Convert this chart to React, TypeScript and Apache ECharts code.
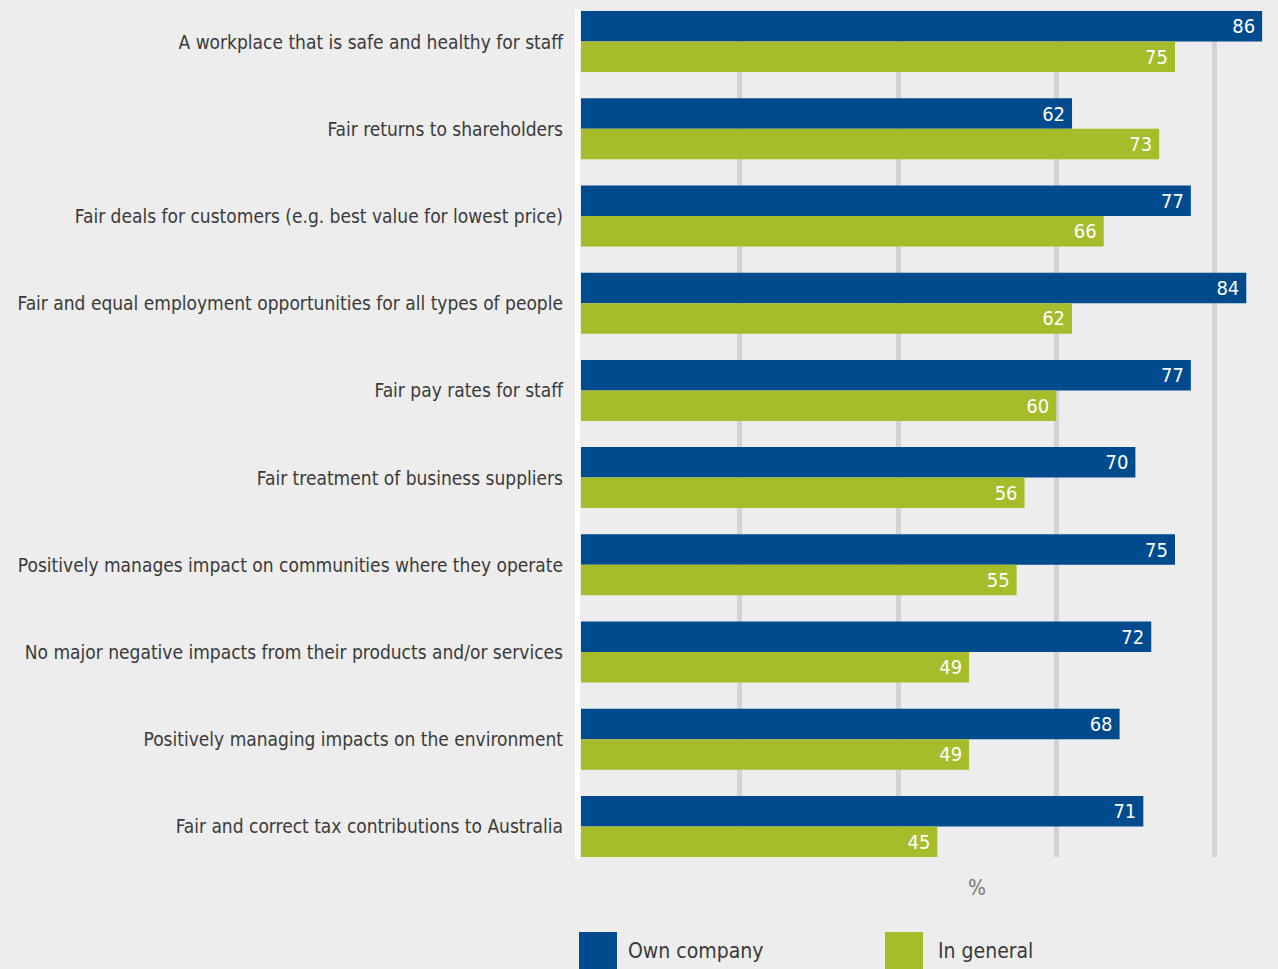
import React, { useEffect, useRef } from "react";
import * as echarts from "echarts";

const categories = [
  "A workplace that is safe and healthy for staff",
  "Fair returns to shareholders",
  "Fair deals for customers (e.g. best value for lowest price)",
  "Fair and equal employment opportunities for all types of people",
  "Fair pay rates for staff",
  "Fair treatment of business suppliers",
  "Positively manages impact on communities where they operate",
  "No major negative impacts from their products and/or services",
  "Positively managing impacts on the environment",
  "Fair and correct tax contributions to Australia",
];
const ownCompany = [86, 62, 77, 84, 77, 70, 75, 72, 68, 71];
const inGeneral = [75, 73, 66, 62, 60, 56, 55, 49, 49, 45];
const seriesNames = ["Own company", "In general"];
const unitLabel = "%";

const FONT = "'DejaVu Sans Condensed', 'Liberation Sans Narrow', sans-serif";
const BLUE = "#004b8d";
const GREEN = "#a6bc2b";

export default function App() {
  const ref = useRef<HTMLDivElement>(null);
  useEffect(() => {
    document.body.style.margin = "0";
    if (!ref.current) return;
    const chart = echarts.init(ref.current, null, { renderer: "svg" });
    const valueLabel = {
      show: true,
      position: "insideRight",
      distance: 7,
      color: "#ffffff",
      fontSize: 20,
      fontFamily: FONT,
    };
    chart.setOption({
      animation: false,
      backgroundColor: "#ededed",
      textStyle: { fontFamily: FONT },
      grid: [
        { left: 581, right: -95, top: -2, bottom: 99, outerBoundsMode: "none", containLabel: false },
        { left: 581, right: -95, top: 11, bottom: 112, outerBoundsMode: "none", containLabel: false },
      ],
      xAxis: [
        {
          gridIndex: 0,
          type: "value",
          min: 0,
          max: 100,
          interval: 20,
          axisLine: { show: false },
          axisTick: { show: false },
          axisLabel: { show: false },
          splitLine: { show: false },
        },
        {
          gridIndex: 1,
          type: "value",
          min: 0,
          max: 100,
          interval: 20,
          axisLine: { show: false },
          axisTick: { show: false },
          axisLabel: { show: false },
          splitLine: {
            show: true,
            showMinLine: false,
            showMaxLine: false,
            lineStyle: { color: "#d3d3d5", width: 5 },
          },
        },
      ],
      yAxis: [
        {
          gridIndex: 0,
          type: "category",
          data: categories,
          inverse: true,
          axisLine: { show: false },
          axisTick: { show: false },
          axisLabel: {
            margin: 18,
            color: "#3a3a3a",
            fontSize: 19,
            fontFamily: FONT,
          },
        },
        {
          gridIndex: 1,
          type: "value",
          min: 0,
          max: 1,
          offset: 4,
          axisLine: { show: true, onZero: false, lineStyle: { color: "#ffffff", width: 5 } },
          axisTick: { show: false },
          axisLabel: { show: false },
          splitLine: { show: false },
        },
      ],
      legend: [
        {
          data: [seriesNames[0]],
          left: 579,
          top: 932,
          padding: 0,
          icon: "rect",
          itemWidth: 38,
          itemHeight: 38,
          itemGap: 0,
          textStyle: { fontSize: 21, color: "#3a3a3a", fontFamily: FONT, padding: [2, 0, 0, 6] },
        },
        {
          data: [seriesNames[1]],
          left: 885,
          top: 932,
          padding: 0,
          icon: "rect",
          itemWidth: 38,
          itemHeight: 38,
          itemGap: 0,
          textStyle: { fontSize: 21, color: "#3a3a3a", fontFamily: FONT, padding: [2, 0, 0, 10] },
        },
      ],
      graphic: [
        {
          type: "text",
          left: 968,
          top: 877,
          style: { text: unitLabel, fontSize: 21, fill: "#777777", fontFamily: FONT },
        },
      ],
      series: [
        {
          name: seriesNames[0],
          type: "bar",
          xAxisIndex: 0,
          yAxisIndex: 0,
          data: ownCompany,
          barWidth: 30.5,
          barGap: "0%",
          itemStyle: { color: BLUE },
          label: valueLabel,
          z: 3,
        },
        {
          name: seriesNames[1],
          type: "bar",
          xAxisIndex: 0,
          yAxisIndex: 0,
          data: inGeneral,
          barWidth: 30.5,
          barGap: "0%",
          itemStyle: { color: GREEN },
          label: valueLabel,
          z: 3,
        },
      ],
    });
    return () => chart.dispose();
  }, []);
  return <div ref={ref} style={{ width: 1278, height: 969 }} />;
}
